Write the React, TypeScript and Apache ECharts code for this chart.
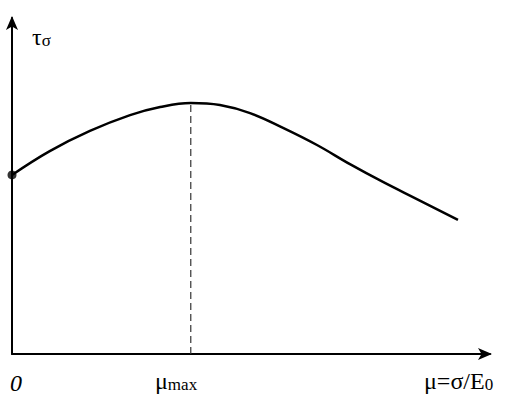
import React, { useEffect, useRef } from "react";
import * as echarts from "echarts";

// Curve τσ(μ) — relative units (x 0..100, y 0..100)
const muValues = [0, 7.9, 16.3, 24.7, 31.0, 37.4, 43.5, 49.8, 56.7, 63.8, 70.7, 77.6, 84.7, 93.3];
const tauValues = [53.3, 60.4, 66.4, 71.1, 73.5, 74.7, 74.1, 71.7, 67.3, 62.2, 56.5, 51.2, 46.1, 39.9];
const muMax = 37.4;
const tauMax = 74.7;
const startPoint = [0, 53.3];
const xLabelZero = "0";
const xLabelMuMain = "μ";
const xLabelMuSub = "max";
const xAxisNameMain = "μ=σ/E";
const xAxisNameSub = "0";
const yAxisNameMain = "τ";
const yAxisNameSub = "σ";

const FAMILY = "Liberation Serif, Times New Roman, serif";

export default function App() {
  const ref = useRef<HTMLDivElement>(null);
  useEffect(() => {
    if (!ref.current) return;
    const chart = echarts.init(ref.current, null, { renderer: "svg" });
    const curve = muValues.map((m, i) => [m, tauValues[i]]);
    const axisCommon = {
      type: "value",
      min: 0,
      max: 100,
      axisLine: {
        show: true,
        onZero: false,
        symbol: ["none", "arrow"],
        symbolSize: [9, 14],
        symbolOffset: [0, 2],
        lineStyle: { color: "#000", width: 2 },
      },
      axisTick: { show: false },
      axisLabel: { show: false },
      splitLine: { show: false },
    };
    const big = { fontFamily: FAMILY, fontSize: 24, color: "#000", verticalAlign: "bottom" };
    const small = { fontFamily: FAMILY, fontSize: 17, color: "#000", verticalAlign: "bottom" };
    chart.setOption({
      animation: false,
      backgroundColor: "#ffffff",
      grid: { left: 12, right: 31, top: 18, bottom: 46, containLabel: false },
      xAxis: axisCommon,
      yAxis: axisCommon,
      series: [
        {
          type: "line",
          data: [
            [muMax, 0],
            [muMax, tauMax],
          ],
          showSymbol: false,
          symbol: "none",
          lineStyle: { color: "#333", width: 1.2, type: [7, 4] },
          z: 1,
        },
        {
          type: "line",
          data: curve,
          smooth: 0.4,
          showSymbol: false,
          symbol: "none",
          lineStyle: { color: "#000", width: 2.5 },
          z: 3,
        },
        {
          type: "scatter",
          data: [startPoint],
          symbol: "circle",
          symbolSize: 9,
          itemStyle: { color: "#000" },
          z: 4,
        },
      ],
      graphic: [
        {
          type: "text",
          left: 10,
          top: 371,
          style: { text: xLabelZero, fontFamily: FAMILY, fontSize: 24, fontStyle: "italic", fill: "#000" },
        },
        {
          type: "text",
          left: 155,
          top: 369,
          style: {
            text: `{a|${xLabelMuMain}}{b|${xLabelMuSub}}`,
            rich: { a: big, b: small },
          },
        },
        {
          type: "text",
          left: 424,
          top: 369,
          style: {
            text: `{a|${xAxisNameMain}}{b|${xAxisNameSub}}`,
            rich: { a: big, b: small },
          },
        },
        {
          type: "text",
          left: 32,
          top: 25,
          style: {
            text: `{a|${yAxisNameMain}}{b|${yAxisNameSub}}`,
            rich: { a: big, b: small },
          },
        },
      ],
    });
    return () => chart.dispose();
  }, []);
  return <div ref={ref} style={{ width: 521, height: 400, position: "absolute", left: 0, top: 0 }} />;
}
